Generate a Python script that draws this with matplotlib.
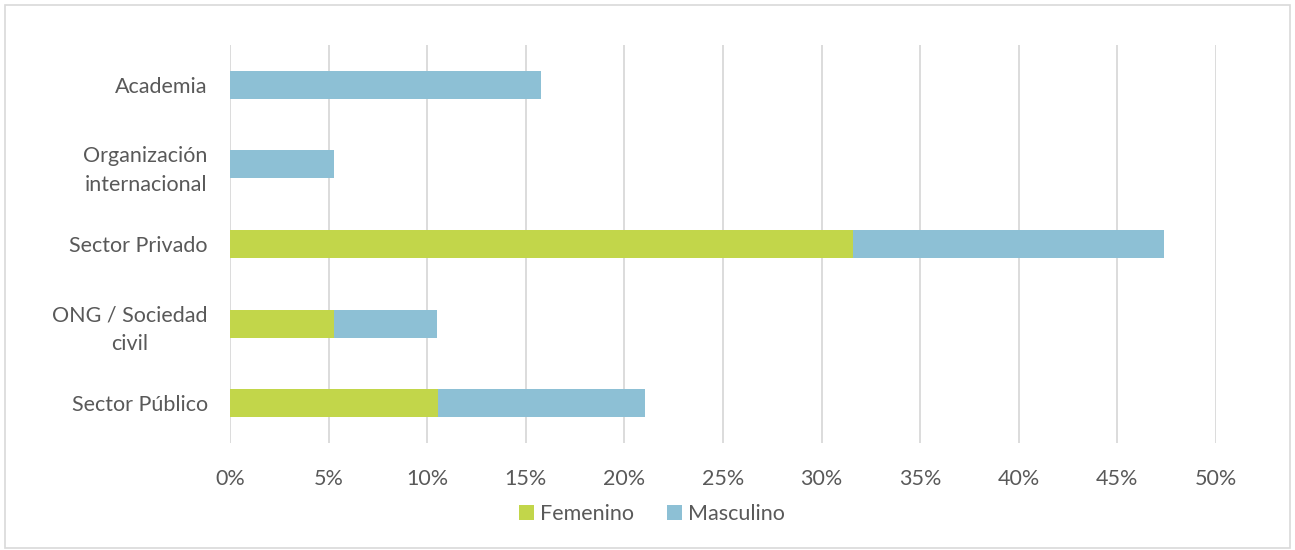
import matplotlib
matplotlib.use("Agg")
import matplotlib.pyplot as plt
from matplotlib.patches import Rectangle
from matplotlib.ticker import FuncFormatter, MultipleLocator

categories = ["Sector Público", "ONG / Sociedad\ncivil", "Sector Privado",
              "Organización\ninternacional", "Academia"]
femenino = [10.53, 5.26, 31.58, 0.0, 0.0]
masculino = [10.53, 5.26, 15.79, 5.26, 15.79]
series_names = ["Femenino", "Masculino"]
colors = ["#C2D64A", "#8DC0D5"]
text_color = "#595959"

plt.rcParams['font.family'] = ['Lato', 'DejaVu Sans']

W, H = 1295, 550
fig = plt.figure(figsize=(W / 100, H / 100), dpi=100)
ax = fig.add_axes([230 / W, 1 - 443 / H, (1216 - 230) / W, (443 - 45) / H])

y = list(range(len(categories)))
ax.barh(y, femenino, height=0.35, color=colors[0], label=series_names[0], zorder=3)
ax.barh(y, masculino, left=femenino, height=0.35, color=colors[1], label=series_names[1], zorder=3)

ax.set_xlim(0, 50)
ax.set_ylim(-0.5, len(categories) - 0.5)
ax.xaxis.set_major_locator(MultipleLocator(5))
ax.xaxis.set_major_formatter(FuncFormatter(lambda v, p: f"{int(round(v))}%"))
ax.set_yticks(y)
ax.set_yticklabels(categories, ha="right", multialignment="center", linespacing=1.55)
ax.tick_params(axis="y", length=0, pad=16, labelsize=15.5, labelcolor=text_color)
ax.tick_params(axis="x", length=0, pad=19, labelsize=15.5, labelcolor=text_color)
ax.grid(axis="x", color="#D9D9D9", linewidth=1.3, zorder=0)
for s in ax.spines.values():
    s.set_visible(False)

leg = fig.legend(loc="center", bbox_to_anchor=(652 / W, 1 - 514 / H), ncol=2, frameon=False,
                 fontsize=15.5, handlelength=0.7, handleheight=0.7, handletextpad=0.3,
                 columnspacing=1.5, labelcolor=text_color)

fig.patches.append(Rectangle((5 / W, 2 / H), 1285 / W, 1 - 7 / H, transform=fig.transFigure,
                             fill=False, edgecolor="#D9D9D9", linewidth=1.2))

fig.savefig("out.png", dpi=100, facecolor="white")
